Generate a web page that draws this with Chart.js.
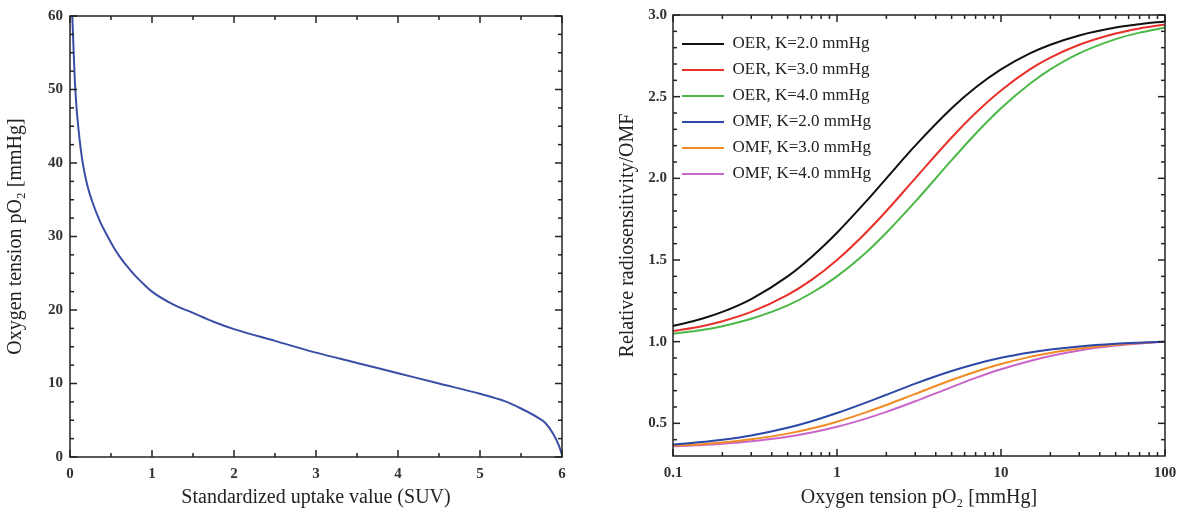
<!DOCTYPE html>
<html>
<head>
<meta charset="utf-8">
<script src="https://cdn.jsdelivr.net/npm/chart.js@4/dist/chart.umd.min.js"></script>
<style>
  html, body { margin: 0; padding: 0; background: #fff; }
  .box { position: absolute; top: 0; height: 520px; }
  #leftBox { left: 0; width: 580px; }
  #rightBox { left: 600px; width: 587px; }
</style>
</head>
<body>
<div class="box" id="leftBox"><canvas id="suvChart"></canvas></div>
<div class="box" id="rightBox"><canvas id="oerChart"></canvas></div>
<script>
// left panel: pO2 as a function of SUV
const suvValues = [0.028, 0.045, 0.06, 0.08, 0.10, 0.13, 0.16, 0.21, 0.27, 0.36, 0.45, 0.55, 0.63, 0.70, 0.80, 0.90, 1.00, 1.25, 1.50, 1.75, 2.00, 2.50, 3.00, 3.50, 4.00, 4.50, 5.00, 5.30, 5.50, 5.70, 5.80, 5.89, 5.96, 6.00];
const po2Values = [60, 55, 51, 47.5, 45, 42, 39.7, 37, 34.8, 32.2, 30.2, 28.2, 26.9, 25.9, 24.6, 23.5, 22.5, 20.8, 19.6, 18.4, 17.4, 15.8, 14.2, 12.8, 11.4, 10.0, 8.6, 7.6, 6.6, 5.4, 4.6, 3.2, 1.6, 0.3];

// right panel: OER / OMF against pO2 (log axis)
const po2Axis = [0.1, 0.15, 0.2, 0.3, 0.5, 0.7, 1, 1.5, 2, 3, 5, 7, 10, 15, 20, 30, 50, 70, 100];
const oerK2 = [1.095, 1.140, 1.182, 1.261, 1.400, 1.519, 1.667, 1.857, 2.000, 2.200, 2.429, 2.556, 2.667, 2.765, 2.818, 2.875, 2.923, 2.944, 2.961];
const oerK3 = [1.065, 1.095, 1.125, 1.182, 1.286, 1.378, 1.500, 1.667, 1.800, 2.000, 2.250, 2.400, 2.538, 2.667, 2.739, 2.818, 2.887, 2.918, 2.942];
const oerK4 = [1.049, 1.072, 1.095, 1.140, 1.222, 1.298, 1.400, 1.545, 1.667, 1.857, 2.111, 2.273, 2.429, 2.579, 2.667, 2.765, 2.852, 2.892, 2.923];
const omfK2 = [0.370, 0.385, 0.399, 0.426, 0.473, 0.513, 0.563, 0.627, 0.675, 0.743, 0.820, 0.863, 0.901, 0.934, 0.952, 0.971, 0.987, 0.994, 1.000];
const omfK3 = [0.362, 0.372, 0.382, 0.402, 0.437, 0.468, 0.510, 0.567, 0.612, 0.680, 0.765, 0.816, 0.863, 0.907, 0.931, 0.958, 0.981, 0.992, 1.000];
const omfK4 = [0.359, 0.367, 0.375, 0.390, 0.418, 0.444, 0.479, 0.529, 0.570, 0.635, 0.722, 0.778, 0.831, 0.882, 0.912, 0.946, 0.976, 0.989, 1.000];

const seriesLabels = ['OER, K=2.0 mmHg', 'OER, K=3.0 mmHg', 'OER, K=4.0 mmHg', 'OMF, K=2.0 mmHg', 'OMF, K=3.0 mmHg', 'OMF, K=4.0 mmHg'];
const seriesColors = ['#111111', '#e8302a', '#4cb847', '#2c48a8', '#f28b24', '#c966c9'];

// tick positions
const suvMajor = [0, 1, 2, 3, 4, 5, 6];
const suvMinor = [0.5, 1.5, 2.5, 3.5, 4.5, 5.5];
const po2Major = [0, 10, 20, 30, 40, 50, 60];
const po2Minor = [2.5, 5, 7.5, 12.5, 15, 17.5, 22.5, 25, 27.5, 32.5, 35, 37.5, 42.5, 45, 47.5, 52.5, 55, 57.5];
const logMajor = [0.1, 1, 10, 100];
const logMinor = [0.2, 0.3, 0.4, 0.5, 0.6, 0.7, 0.8, 0.9, 2, 3, 4, 5, 6, 7, 8, 9, 20, 30, 40, 50, 60, 70, 80, 90];
const relMajor = [0.5, 1.0, 1.5, 2.0, 2.5, 3.0];
const relMinor = [0.4, 0.6, 0.7, 0.8, 0.9, 1.1, 1.2, 1.3, 1.4, 1.6, 1.7, 1.8, 1.9, 2.1, 2.2, 2.3, 2.4, 2.6, 2.7, 2.8, 2.9];

const SERIF = '"Liberation Serif", "DejaVu Serif", serif';
const tickFont = { family: SERIF, size: 15, weight: 'bold' };
const titleFont = { family: SERIF, size: 20 };

// box around the plot with inward ticks on all four sides
const frameTicks = {
    id: 'frameTicks',
    afterDatasetsDraw(chart, args, opts) {
        const { ctx, chartArea: a, scales: { x, y } } = chart;
        ctx.save();
        ctx.strokeStyle = '#222';
        ctx.lineWidth = 1.5;
        ctx.strokeRect(a.left, a.top, a.right - a.left, a.bottom - a.top);
        const seg = (x1, y1, x2, y2) => { ctx.beginPath(); ctx.moveTo(x1, y1); ctx.lineTo(x2, y2); ctx.stroke(); };
        const xt = (vals, len) => vals.forEach(v => {
            const p = x.getPixelForValue(v);
            seg(p, a.bottom, p, a.bottom - len);
            seg(p, a.top, p, a.top + len);
        });
        const yt = (vals, len) => vals.forEach(v => {
            const p = y.getPixelForValue(v);
            seg(a.left, p, a.left + len, p);
            seg(a.right, p, a.right - len, p);
        });
        xt(opts.xMajor, 7); xt(opts.xMinor, 4);
        yt(opts.yMajor, 7); yt(opts.yMinor, 4);
        ctx.restore();
    }
};

function fixSize(w, h) {
    return scale => {
        if (w) scale.width = w;
        if (h) scale.height = h;
    };
}

new Chart(document.getElementById('suvChart'), {
    type: 'line',
    data: {
        datasets: [{
            data: suvValues.map((v, i) => ({ x: v, y: po2Values[i] })),
            borderColor: '#3a4ea6',
            borderWidth: 2,
            pointRadius: 0,
            cubicInterpolationMode: 'monotone',
            fill: false
        }]
    },
    options: {
        responsive: true,
        maintainAspectRatio: false,
        animation: false,
        layout: { padding: { top: 14, right: 18, left: 0, bottom: 0 } },
        plugins: {
            legend: { display: false },
            tooltip: { enabled: false },
            frameTicks: { xMajor: suvMajor, xMinor: suvMinor, yMajor: po2Major, yMinor: po2Minor }
        },
        scales: {
            x: {
                type: 'linear', min: 0, max: 6,
                grid: { display: false, drawTicks: false },
                border: { display: false },
                afterBuildTicks: s => { s.ticks = suvMajor.map(v => ({ value: v })); },
                afterFit: fixSize(null, 63),
                ticks: { font: tickFont, color: '#333', padding: 8 },
                title: { display: true, text: 'Standardized uptake value (SUV)', font: titleFont, color: '#222', padding: { top: 0, bottom: 10 } }
            },
            y: {
                type: 'linear', min: 0, max: 60,
                grid: { display: false, drawTicks: false },
                border: { display: false },
                afterBuildTicks: s => { s.ticks = po2Major.map(v => ({ value: v })); },
                afterFit: fixSize(70, null),
                ticks: { font: tickFont, color: '#333', padding: 7 },
                title: { display: true, text: 'Oxygen tension pO₂ [mmHg]', font: titleFont, color: '#222', padding: { top: 4, bottom: 0 } }
            }
        }
    },
    plugins: [frameTicks]
});

const rightSeries = [oerK2, oerK3, oerK4, omfK2, omfK3, omfK4];

new Chart(document.getElementById('oerChart'), {
    type: 'line',
    data: {
        datasets: rightSeries.map((vals, i) => ({
            label: seriesLabels[i],
            data: vals.map((v, j) => ({ x: po2Axis[j], y: v })),
            borderColor: seriesColors[i],
            backgroundColor: seriesColors[i],
            borderWidth: 2,
            pointRadius: 0,
            cubicInterpolationMode: 'monotone',
            fill: false
        }))
    },
    options: {
        responsive: true,
        maintainAspectRatio: false,
        animation: false,
        layout: { padding: { top: 15, right: 22, left: 0, bottom: 0 } },
        plugins: {
            legend: {
                position: 'chartArea',
                align: 'start',
                // empty title only used as a spacer above the rows
                title: { display: true, text: ' ', font: { family: SERIF, size: 17 }, padding: { top: 3, bottom: 3 } },
                labels: {
                    boxWidth: 42,
                    boxHeight: 2,
                    padding: 9,
                    color: '#222',
                    font: { family: SERIF, size: 17 },
                    generateLabels: chart => chart.data.datasets.map((d, i) => ({
                        text: d.label,
                        fillStyle: d.borderColor,
                        strokeStyle: d.borderColor,
                        fontColor: '#222',
                        lineWidth: 0,
                        datasetIndex: i
                    }))
                }
            },
            tooltip: { enabled: false },
            frameTicks: { xMajor: logMajor, xMinor: logMinor, yMajor: relMajor, yMinor: relMinor }
        },
        scales: {
            x: {
                type: 'logarithmic', min: 0.1, max: 100,
                grid: { display: false, drawTicks: false },
                border: { display: false },
                afterBuildTicks: s => { s.ticks = logMajor.map(v => ({ value: v })); },
                afterFit: fixSize(null, 64),
                ticks: { font: tickFont, color: '#333', padding: 8, callback: v => String(v) },
                title: { display: true, text: 'Oxygen tension pO₂ [mmHg]', font: titleFont, color: '#222', padding: { top: 0, bottom: 10 } }
            },
            y: {
                type: 'linear', min: 0.3, max: 3.0,
                grid: { display: false, drawTicks: false },
                border: { display: false },
                afterBuildTicks: s => { s.ticks = relMajor.map(v => ({ value: v })); },
                afterFit: fixSize(73, null),
                ticks: { font: tickFont, color: '#333', padding: 6, callback: v => Number(v).toFixed(1) },
                title: { display: true, text: 'Relative radiosensitivity/OMF', font: titleFont, color: '#222', padding: { top: 16, bottom: 0 } }
            }
        }
    },
    plugins: [frameTicks]
});
</script>
</body>
</html>
